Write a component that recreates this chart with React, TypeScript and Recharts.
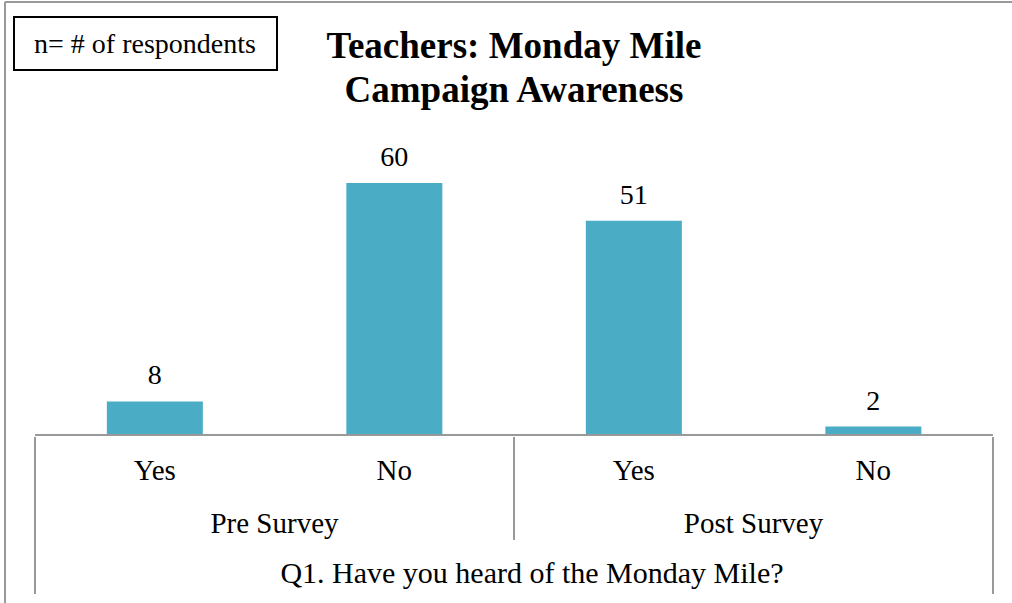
import { BarChart, Bar, XAxis, YAxis, LabelList, Label } from 'recharts'

const categories = ['Yes', 'No', 'Yes', 'No']
const groups = ['Pre Survey', 'Pre Survey', 'Post Survey', 'Post Survey']
const respondents = [8, 60, 51, 2]

const data = categories.map((answer, i) => ({
    answer,
    group: groups[i],
    respondents: respondents[i],
}))

const W = 1012
const H = 603
const margin = { top: 141, right: 19, left: 35, bottom: 8 }
const band = (W - margin.left - margin.right) / categories.length
const font = '"Liberation Serif", "Times New Roman", serif'
const lineColor = '#999'

function CategoryTick(props: any) {
    const { x, y, index, payload } = props
    const isGroupStart = index === 0 || groups[index] !== groups[index - 1]
    const isGroupEnd = index === groups.length - 1 || groups[index] !== groups[index + 1]
    const isLast = index === groups.length - 1
    return (
        <g>
            <text x={x} y={y + 43} textAnchor="middle" fontSize={29} fontFamily={font} fill="#000">
                {payload.value}
            </text>
            {isGroupStart && (
                <text x={x + band / 2} y={y + 96} textAnchor="middle" fontSize={29} fontFamily={font} fill="#000">
                    {groups[index]}
                </text>
            )}
            {index === 0 && (
                <line x1={x - band / 2} x2={x - band / 2} y1={y} y2={y + 157} stroke={lineColor} strokeWidth={2} />
            )}
            {isGroupEnd && (
                <line x1={x + band / 2} x2={x + band / 2} y1={y} y2={y + (isLast ? 157 : 103)} stroke={lineColor} strokeWidth={2} />
            )}
        </g>
    )
}

export default function App() {
    return (
        <div style={{ position: 'absolute', left: 0, top: 0, width: W, height: H, background: '#fff' }}>
            <BarChart width={W} height={H} data={data} margin={margin} barCategoryGap="30%">
                <YAxis hide domain={[0, 70]} />
                <XAxis
                    dataKey="answer"
                    height={160}
                    tickSize={0}
                    tickLine={false}
                    axisLine={{ stroke: lineColor, strokeWidth: 2 }}
                    tick={<CategoryTick />}
                    interval={0}
                >
                    <Label
                        value="Q1. Have you heard of the Monday Mile?"
                        position="insideBottom"
                        offset={12}
                        dx={18}
                        fontSize={30}
                        fontFamily={font}
                        fill="#000"
                    />
                </XAxis>
                <Bar dataKey="respondents" fill="#4BACC6" isAnimationActive={false}>
                    <LabelList dataKey="respondents" position="top" offset={17} fontSize={28} fontFamily={font} fill="#000" />
                </Bar>
            </BarChart>
            <svg width={W} height={H} style={{ position: 'absolute', left: 0, top: 0, pointerEvents: 'none' }}>
                <line x1={5} x2={W} y1={2} y2={2} stroke={lineColor} strokeWidth={2} />
                <line x1={5} x2={5} y1={2} y2={H} stroke={lineColor} strokeWidth={2} />
                <rect x={14} y={17} width={263} height={53} fill="#fff" stroke="#000" strokeWidth={2} />
                <text x={145} y={53} textAnchor="middle" fontSize={28} fontFamily={font} fill="#000">
                    n= # of respondents
                </text>
                <text x={514} y={58} textAnchor="middle" fontSize={37} fontWeight="bold" fontFamily={font} fill="#000">
                    Teachers: Monday Mile
                </text>
                <text x={514} y={102} textAnchor="middle" fontSize={37} fontWeight="bold" fontFamily={font} fill="#000">
                    Campaign Awareness
                </text>
            </svg>
        </div>
    )
}
